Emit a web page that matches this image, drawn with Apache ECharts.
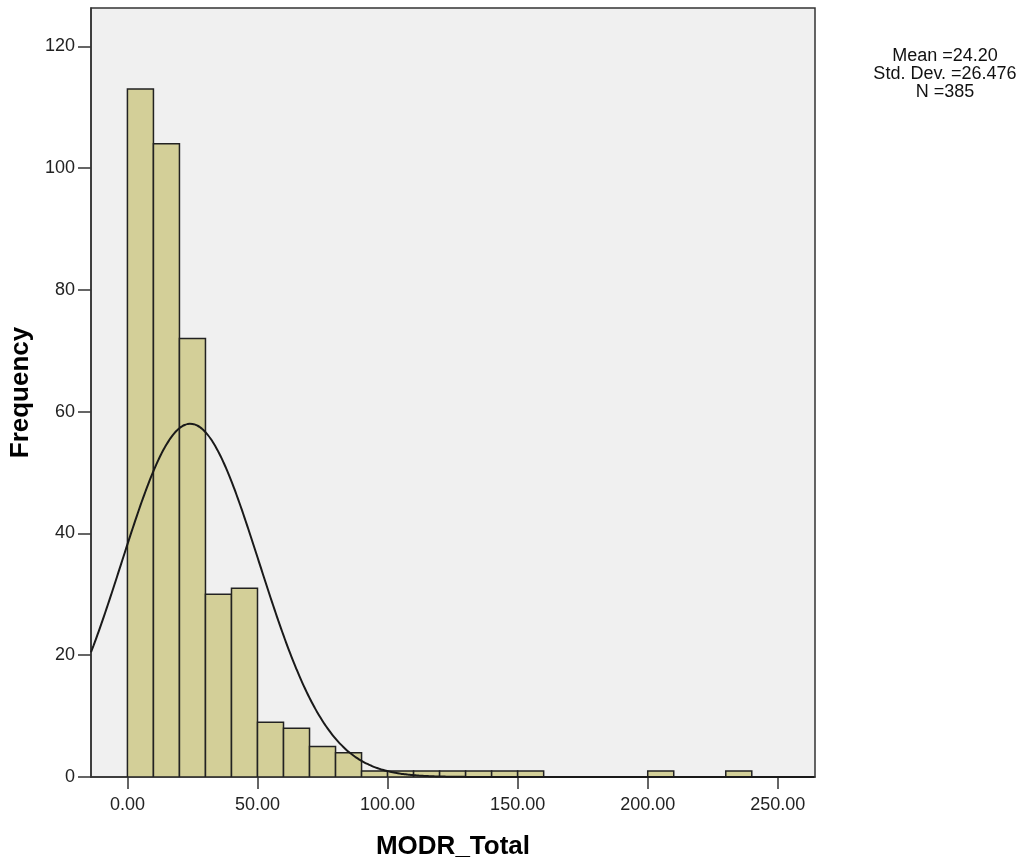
<!DOCTYPE html>
<html>
<head>
<meta charset="utf-8">
<script src="https://cdn.jsdelivr.net/npm/echarts@6/dist/echarts.min.js"></script>
<style>html,body{margin:0;padding:0;background:#fff}#c{width:1027px;height:867px}</style>
</head>
<body>
<div id="c"></div>
<script>
// Histogram bins (start) and frequencies
const binStarts = [0,10,20,30,40,50,60,70,80,90,100,110,120,130,140,150,200,230];
const binWidth = 10;
const frequencies = [113,104,72,30,31,9,8,5,4,1,1,1,1,1,1,1,1,1];
const xTicks = [0,50,100,150,200,250];
const yTicks = [0,20,40,60,80,100,120];
const stats = { mean: 24.20, sd: 26.476, n: 385 };
const statLines = ['Mean =24.20', 'Std. Dev. =26.476', 'N =385'];

const xMin = -14, xMax = 264.3, yMax = 126.3;

const barData = binStarts.map((s, i) => [s, s + binWidth, frequencies[i]]);

// Fitted normal curve from the reported mean / sd / N
const curve = [];
const k = stats.n * binWidth / (stats.sd * Math.sqrt(2 * Math.PI));
for (let x = xMin; x <= xMax; x += 1) {
  curve.push([x, k * Math.exp(-0.5 * Math.pow((x - stats.mean) / stats.sd, 2))]);
}

const chart = echarts.init(document.getElementById('c'));
chart.setOption({
  animation: false,
  grid: { left: 91, right: 212, top: 8, bottom: 90, outerBoundsMode: 'none', containLabel: false,
          show: true, backgroundColor: '#f0f0f0', borderColor: '#333', borderWidth: 1.5 },
  xAxis: {
    type: 'value', min: xMin, max: xMax,
    name: 'MODR_Total', nameLocation: 'middle', nameGap: 57,
    nameTextStyle: { fontFamily: 'Liberation Sans', fontWeight: 'bold', fontSize: 26, color: '#000' },
    axisLine: { show: true, onZero: false, lineStyle: { color: '#333', width: 1.5 } },
    axisTick: { show: true, length: 12, customValues: xTicks, lineStyle: { color: '#333', width: 1.5 } },
    axisLabel: { customValues: xTicks, formatter: v => v.toFixed(2), fontFamily: 'Liberation Sans', fontSize: 18, color: '#222', margin: 19 },
    splitLine: { show: false }
  },
  yAxis: {
    type: 'value', min: 0, max: yMax,
    name: 'Frequency', nameLocation: 'middle', nameGap: 52, nameRotate: 90,
    nameTextStyle: { fontFamily: 'Liberation Sans', fontWeight: 'bold', fontSize: 26, color: '#000' },
    axisLine: { show: true, onZero: false, lineStyle: { color: '#333', width: 1.5 } },
    axisTick: { show: true, length: 13, customValues: yTicks, lineStyle: { color: '#333', width: 1.5 } },
    axisLabel: { customValues: yTicks, fontFamily: 'Liberation Sans', fontSize: 18, color: '#222', margin: 16 },
    splitLine: { show: false }
  },
  graphic: statLines.map((t, i) => ({
    type: 'text', x: 945, y: 56 + i * 18,
    style: { text: t, align: 'center', verticalAlign: 'middle', fontFamily: 'Liberation Sans', fontSize: 18, fill: '#111' }
  })),
  series: [
    {
      type: 'custom',
      data: barData,
      encode: { x: [0, 1], y: 2 },
      clip: true,
      renderItem: function (params, api) {
        const p0 = api.coord([api.value(0), 0]);
        const p1 = api.coord([api.value(1), api.value(2)]);
        return {
          type: 'rect',
          shape: { x: p0[0], y: p1[1], width: p1[0] - p0[0], height: p0[1] - p1[1] },
          style: { fill: '#d3cf98', stroke: '#222', lineWidth: 1.5 }
        };
      }
    },
    {
      type: 'line', data: curve, showSymbol: false, smooth: true, clip: true,
      lineStyle: { color: '#1a1a1a', width: 2 }
    }
  ]
});
</script>
</body>
</html>
